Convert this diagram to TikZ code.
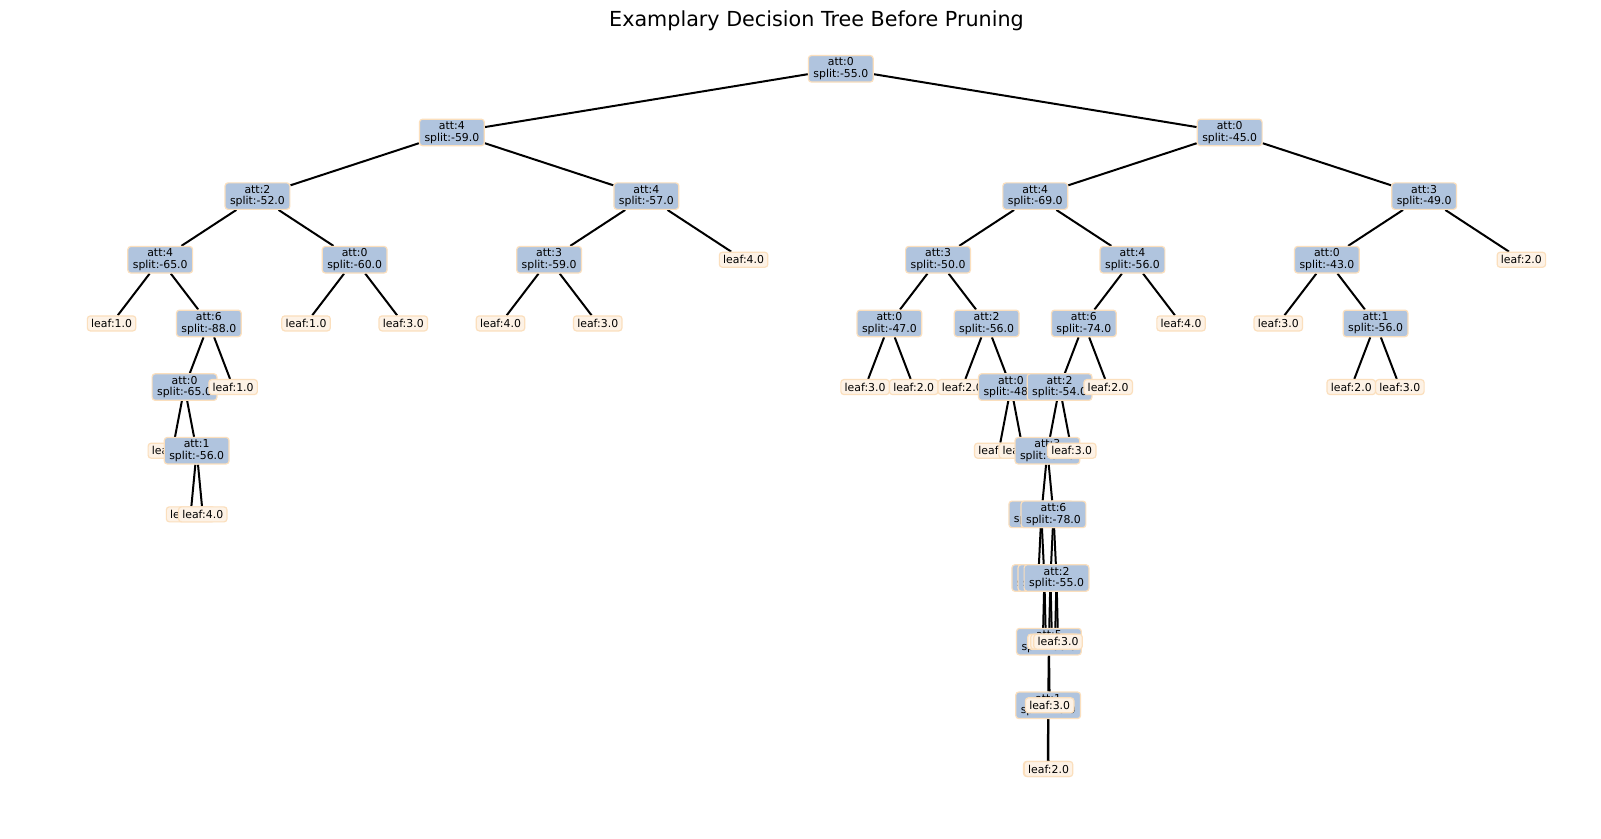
\documentclass[tikz,border=0pt]{standalone}
\usepackage{fontspec}
\setmainfont{DejaVu Sans}
\pgfdeclarelayer{paper}
\pgfdeclarelayer{edgelayer}
\pgfsetlayers{paper,edgelayer,main}
\definecolor{splitfill}{HTML}{B0C4DE}
\definecolor{leaffill}{HTML}{FDF2E6}
\definecolor{boxedge}{HTML}{FBDFBD}
\newcommand\nodefont{\fontsize{10.9}{11.5}\selectfont}
\newcommand\titlefont{\fontsize{20.7}{24}\selectfont}
\tikzset{
  boxbase/.style={draw=boxedge, line width=1.2pt, rounded corners=3pt, inner ysep=0pt, font=\nodefont, outer sep=0.6pt},
  splitbox/.style={boxbase, fill=splitfill, align=center, inner xsep=5pt, minimum height=26.5pt},
  leafbox/.style={boxbase, fill=leaffill, inner xsep=3.8pt, minimum height=15pt},
  edge/.style={line width=2pt, black},
}
\newcommand\splitnode[5]{%
  \node[splitbox] (#1) at (#3,#4) {#5};
  \begin{pgfonlayer}{edgelayer}\draw[edge] (#2) -- (#1);\end{pgfonlayer}}
\newcommand\leafnode[5]{%
  \node[leafbox] (#1) at (#3,#4) {#5};
  \begin{pgfonlayer}{edgelayer}\draw[edge] (#2) -- (#1);\end{pgfonlayer}}
\begin{document}
\begin{tikzpicture}[x=1pt,y=-1pt]
\begin{pgfonlayer}{paper}
\fill[white] (0,0) rectangle (1601,838);
\end{pgfonlayer}
\useasboundingbox (0,0) rectangle (1601,838);
\node[anchor=base, font=\titlefont] (title) at (816.5,26.3) {Examplary Decision Tree Before Pruning};
\node[splitbox] (n) at (840.8,68.8) {att:0\\split:-55.0};
\splitnode{nL}{n}{451.9}{132.45}{att:4\\split:-59.0}
\splitnode{nLL}{nL}{257.45}{196.1}{att:2\\split:-52.0}
\splitnode{nLLL}{nLL}{160.23}{259.75}{att:4\\split:-65.0}
\leafnode{nLLLL}{nLLL}{111.61}{323.4}{leaf:1.0}
\splitnode{nLLLR}{nLLL}{208.84}{323.4}{att:6\\split:-88.0}
\splitnode{nLLLRL}{nLLLR}{184.53}{387.05}{att:0\\split:-65.0}
\leafnode{nLLLRLL}{nLLLRL}{172.38}{450.7}{leaf:1.0}
\splitnode{nLLLRLR}{nLLLRL}{196.68}{450.7}{att:1\\split:-56.0}
\leafnode{nLLLRLRL}{nLLLRLR}{190.61}{514.35}{leaf:1.0}
\leafnode{nLLLRLRR}{nLLLRLR}{202.76}{514.35}{leaf:4.0}
\leafnode{nLLLRR}{nLLLR}{233.15}{387.05}{leaf:1.0}
\splitnode{nLLR}{nLL}{354.68}{259.75}{att:0\\split:-60.0}
\leafnode{nLLRL}{nLLR}{306.06}{323.4}{leaf:1.0}
\leafnode{nLLRR}{nLLR}{403.29}{323.4}{leaf:3.0}
\splitnode{nLR}{nL}{646.35}{196.1}{att:4\\split:-57.0}
\splitnode{nLRL}{nLR}{549.13}{259.75}{att:3\\split:-59.0}
\leafnode{nLRLL}{nLRL}{500.51}{323.4}{leaf:4.0}
\leafnode{nLRLR}{nLRL}{597.74}{323.4}{leaf:3.0}
\leafnode{nLRR}{nLR}{743.58}{259.75}{leaf:4.0}
\splitnode{nR}{n}{1229.7}{132.45}{att:0\\split:-45.0}
\splitnode{nRL}{nR}{1035.25}{196.1}{att:4\\split:-69.0}
\splitnode{nRLL}{nRL}{938.03}{259.75}{att:3\\split:-50.0}
\splitnode{nRLLL}{nRLL}{889.41}{323.4}{att:0\\split:-47.0}
\leafnode{nRLLLL}{nRLLL}{865.11}{387.05}{leaf:3.0}
\leafnode{nRLLLR}{nRLLL}{913.72}{387.05}{leaf:2.0}
\splitnode{nRLLR}{nRLL}{986.64}{323.4}{att:2\\split:-56.0}
\leafnode{nRLLRL}{nRLLR}{962.33}{387.05}{leaf:2.0}
\splitnode{nRLLRR}{nRLLR}{1010.94}{387.05}{att:0\\split:-48.0}
\leafnode{nRLLRRL}{nRLLRR}{998.79}{450.7}{leaf:2.0}
\leafnode{nRLLRRR}{nRLLRR}{1023.10}{450.7}{leaf:3.0}
\splitnode{nRLR}{nRL}{1132.48}{259.75}{att:4\\split:-56.0}
\splitnode{nRLRL}{nRLR}{1083.86}{323.4}{att:6\\split:-74.0}
\splitnode{nRLRLL}{nRLRL}{1059.55}{387.05}{att:2\\split:-54.0}
\splitnode{nRLRLLL}{nRLRLL}{1047.40}{450.7}{att:3\\split:-61.0}
\splitnode{nRLRLLLL}{nRLRLLL}{1041.32}{514.35}{att:5\\split:-62.0}
\leafnode{nRLRLLLLL}{nRLRLLLL}{1038.28}{578.0}{leaf:3.0}
\splitnode{nRLRLLLLR}{nRLRLLLL}{1044.36}{578.0}{att:1\\split:-58.0}
\leafnode{nRLRLLLLRL}{nRLRLLLLR}{1042.84}{641.65}{leaf:3.0}
\leafnode{nRLRLLLLRR}{nRLRLLLLR}{1045.88}{641.65}{leaf:2.0}
\splitnode{nRLRLLLR}{nRLRLLL}{1053.48}{514.35}{att:6\\split:-78.0}
\splitnode{nRLRLLLRL}{nRLRLLLR}{1050.44}{578.0}{att:3\\split:-57.0}
\splitnode{nRLRLLLRLL}{nRLRLLLRL}{1048.92}{641.65}{att:5\\split:-60.0}
\splitnode{nRLRLLLRLLL}{nRLRLLLRLL}{1048.16}{705.3}{att:1\\split:-70.0}
\leafnode{nRLRLLLRLLLL}{nRLRLLLRLLL}{1047.78}{768.95}{leaf:2.0}
\leafnode{nRLRLLLRLLLR}{nRLRLLLRLLL}{1048.54}{768.95}{leaf:2.0}
\leafnode{nRLRLLLRLLR}{nRLRLLLRLL}{1049.68}{705.3}{leaf:3.0}
\leafnode{nRLRLLLRLR}{nRLRLLLRL}{1051.96}{641.65}{leaf:3.0}
\splitnode{nRLRLLLRR}{nRLRLLLR}{1056.52}{578.0}{att:2\\split:-55.0}
\leafnode{nRLRLLLRRL}{nRLRLLLRR}{1055.00}{641.65}{leaf:3.0}
\leafnode{nRLRLLLRRR}{nRLRLLLRR}{1058.04}{641.65}{leaf:3.0}
\leafnode{nRLRLLR}{nRLRLL}{1071.71}{450.7}{leaf:3.0}
\leafnode{nRLRLR}{nRLRL}{1108.17}{387.05}{leaf:2.0}
\leafnode{nRLRR}{nRLR}{1181.09}{323.4}{leaf:4.0}
\splitnode{nRR}{nR}{1424.15}{196.1}{att:3\\split:-49.0}
\splitnode{nRRL}{nRR}{1326.93}{259.75}{att:0\\split:-43.0}
\leafnode{nRRLL}{nRRL}{1278.31}{323.4}{leaf:3.0}
\splitnode{nRRLR}{nRRL}{1375.54}{323.4}{att:1\\split:-56.0}
\leafnode{nRRLRL}{nRRLR}{1351.23}{387.05}{leaf:2.0}
\leafnode{nRRLRR}{nRRLR}{1399.85}{387.05}{leaf:3.0}
\leafnode{nRRR}{nRR}{1521.38}{259.75}{leaf:2.0}
\end{tikzpicture}
\end{document}
